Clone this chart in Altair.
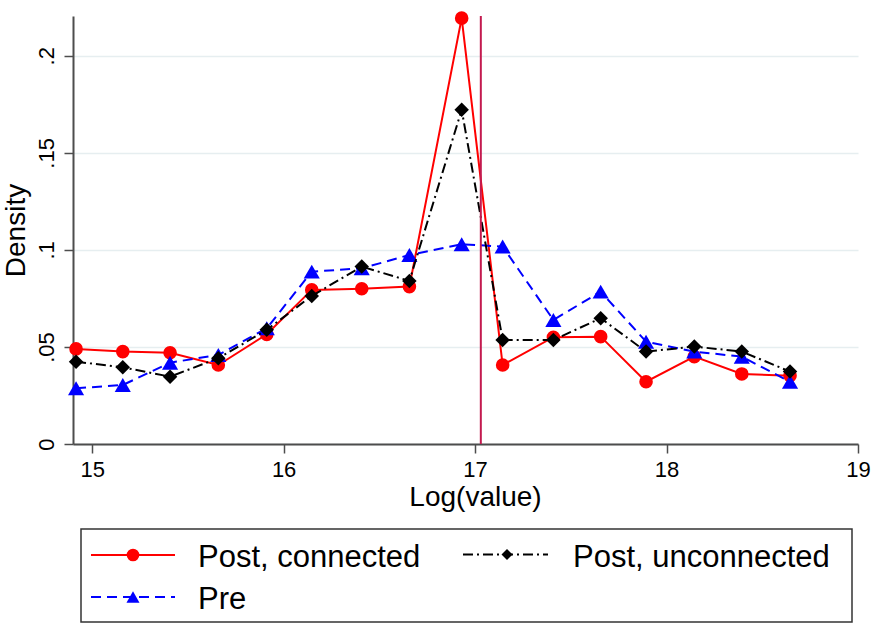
import altair as alt
import pandas as pd

# ---------------- data ----------------
x_vals = [14.916, 15.16, 15.407, 15.659, 15.912, 16.147, 16.408, 16.657,
          16.93, 17.144, 17.409, 17.656, 17.893, 18.145, 18.393, 18.645]
post_connected = [0.049, 0.0476, 0.047, 0.0407, 0.0565, 0.0794, 0.080, 0.0811,
                  0.2194, 0.0407, 0.055, 0.0553, 0.0321, 0.045, 0.0361, 0.0352]
post_unconnected = [0.0424, 0.0395, 0.0347, 0.0442, 0.0588, 0.0763, 0.0914, 0.084,
                    0.1722, 0.0536, 0.0536, 0.0648, 0.0476, 0.0502, 0.0476, 0.0373]
pre = [0.0287, 0.0304, 0.0419, 0.0459, 0.0596, 0.0888, 0.0905, 0.0974,
       0.1029, 0.1017, 0.0639, 0.0785, 0.0527, 0.0476, 0.045, 0.0321]
cutoff = [17.03]
x_ticks = [15, 16, 17, 18, 19]
y_ticks = [0, 0.05, 0.1, 0.15, 0.2]
series_labels = ["Post, connected", "Post, unconnected", "Pre"]

FONT = "Liberation Sans"
RED, BLACK, BLUE = "#ff0000", "#000000", "#0000ff"
AXIS_COL = "#4d4d4d"

xs = alt.Scale(domain=[14.9, 19], nice=False, zero=False)
ys = alt.Scale(domain=[0, 0.2205], nice=False, zero=False)

xaxis = alt.Axis(values=x_ticks, title="Log(value)", grid=False,
                 domainColor=AXIS_COL, domainWidth=2, tickColor=AXIS_COL,
                 tickWidth=1.5, tickSize=9, labelFont=FONT, labelFontSize=22,
                 labelColor="black", labelBaseline="alphabetic", labelPadding=23,
                 labelFlush=False, labelOverlap=False,
                 titleFont=FONT, titleFontSize=28, titleFontWeight="normal",
                 titleColor="black", titleX=402, titleY=61,
                 titleBaseline="alphabetic", titleAlign="center")
yaxis = alt.Axis(values=y_ticks, title="Density", grid=True,
                 gridColor="#e6eef0", gridWidth=1.5,
                 domainColor=AXIS_COL, domainWidth=2, tickColor=AXIS_COL,
                 tickWidth=1.5, tickSize=9, labelFont=FONT, labelFontSize=22,
                 labelColor="black", labelAngle=-90, labelAlign="center",
                 labelBaseline="alphabetic", labelPadding=11,
                 labelFlush=False, labelOverlap=False,
                 labelExpr="datum.value == 0 ? '0' : substring(format(datum.value, '.2~f'), 1)",
                 titleFont=FONT, titleFontSize=28, titleFontWeight="normal",
                 titleColor="black", titleAngle=-90, titleX=-49, titleY=214,
                 titleBaseline="alphabetic", titleAlign="center")

X = alt.X("x:Q", scale=xs, axis=xaxis)
Y = alt.Y("y:Q", scale=ys, axis=yaxis)


def series(vals, color, dash, shape, size):
    df = pd.DataFrame({"x": x_vals, "y": vals})
    kw = dict(color=color, strokeWidth=2)
    if dash:
        kw["strokeDash"] = dash
    line = alt.Chart(df).mark_line(**kw).encode(x=X, y=Y)
    pts = alt.Chart(df).mark_point(shape=shape, filled=True, color=color,
                                   size=size, opacity=1).encode(x=X, y=Y)
    return [line, pts]


DASH_BLACK = [10, 4, 2, 4]
DASH_BLUE = [10, 6]

layers = []
layers += series(post_connected, RED, None, "circle", 185)
layers += series(pre, BLUE, DASH_BLUE, "triangle-up", 260)
layers += series(post_unconnected, BLACK, DASH_BLACK, "diamond", 210)

vline = alt.Chart(pd.DataFrame({"x": cutoff})).mark_rule(
    color="#c31a4f", strokeWidth=2).encode(x=X)
layers.append(vline)

# ---------------- legend (drawn below the plot) ----------------
one = pd.DataFrame({"k": [0]})
legend_box = alt.Chart(one).mark_rect(fill="white", stroke="#333333",
                                      strokeWidth=1.5).encode(
    x=alt.value(8), x2=alt.value(779), y=alt.value(513), y2=alt.value(606))
layers.append(legend_box)


def legend_item(label, color, dash, shape, size, x0, x1, xm, yrow, xt, ybase):
    kw = dict(color=color, strokeWidth=2)
    if dash:
        kw["strokeDash"] = dash
    ln = alt.Chart(one).mark_rule(**kw).encode(
        x=alt.value(x0), x2=alt.value(x1), y=alt.value(yrow))
    pt = alt.Chart(one).mark_point(shape=shape, filled=True, color=color,
                                   size=size, opacity=1).encode(
        x=alt.value(xm), y=alt.value(yrow))
    tx = alt.Chart(pd.DataFrame({"t": [label]})).mark_text(
        font=FONT, fontSize=31, align="left", baseline="alphabetic",
        color="black").encode(x=alt.value(xt), y=alt.value(ybase), text="t:N")
    return [ln, pt, tx]


layers += legend_item(series_labels[0], RED, None, "circle", 160,
                      18, 102, 60, 539, 125, 551)
layers += legend_item(series_labels[1], BLACK, DASH_BLACK, "diamond", 120,
                      390, 475, 434, 538.5, 500, 551)
layers += legend_item(series_labels[2], BLUE, DASH_BLUE, "triangle-up", 170,
                      18, 102, 60, 581, 125, 593)

chart = alt.layer(*layers).properties(
    width=785, height=428,
    autosize=alt.AutoSizeParams(type="none"),
    padding={"left": 73, "top": 16, "right": 14, "bottom": 179},
    background="white",
).configure_view(stroke=None)

chart.save("out.html", embed_options={"renderer": "svg", "actions": False})
